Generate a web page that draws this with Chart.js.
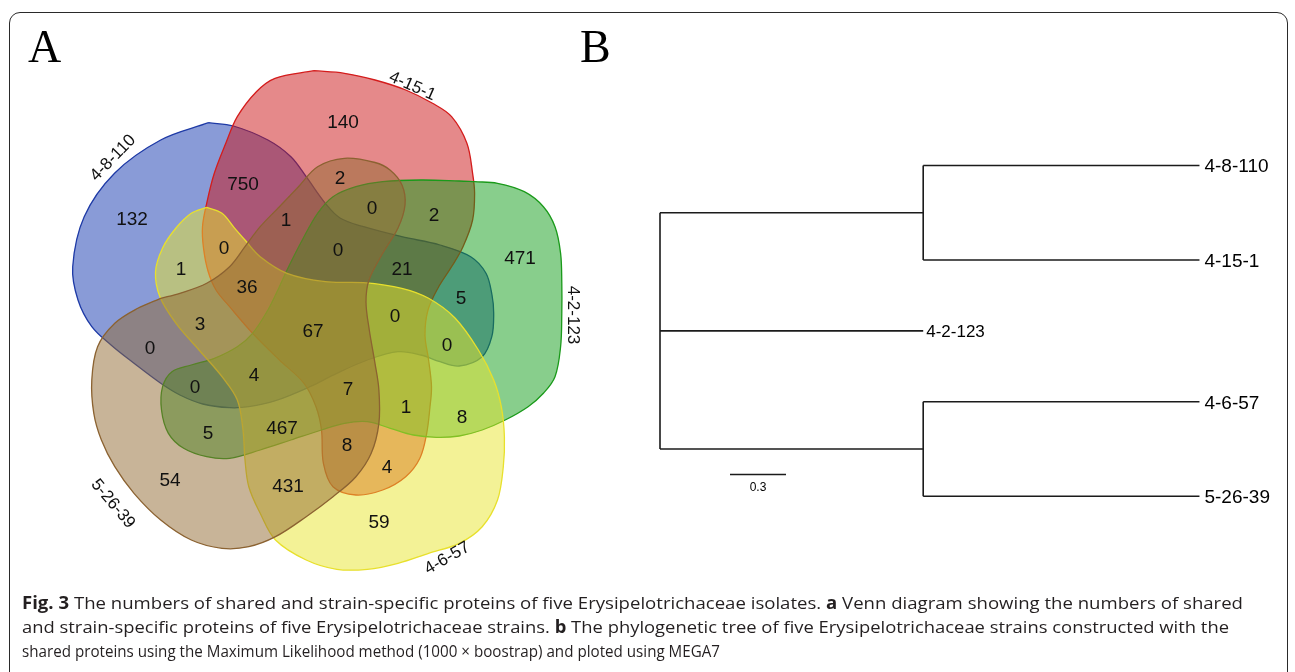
<!DOCTYPE html>
<html><head><meta charset="utf-8">
<script src="https://cdn.jsdelivr.net/npm/chart.js@4.4.1/dist/chart.umd.min.js"></script>
<style>
html,body{margin:0;padding:0;background:#fff;width:1295px;height:672px;overflow:hidden;}
#frame{position:absolute;left:9px;top:12px;width:1279px;height:720px;border:1.6px solid #2a2a2a;border-radius:11px;box-sizing:border-box;}
#chart{position:absolute;left:0;top:0;}
.cap{position:absolute;left:22px;font-family:'Open Sans',sans-serif;font-size:17px;line-height:20px;color:#231f20;white-space:nowrap;transform-origin:0 0;}
.cap b{font-weight:700;}
</style></head><body>
<div id="frame"></div>
<canvas id="chart" width="1295" height="672"></canvas>
<div class="cap" id="cap1" style="top:593px"><b>Fig. 3</b> The numbers of shared and strain-specific proteins of five Erysipelotrichaceae isolates. <b>a</b> Venn diagram showing the numbers of shared</div>
<div class="cap" id="cap2" style="top:617px">and strain-specific proteins of five Erysipelotrichaceae strains. <b>b</b> The phylogenetic tree of five Erysipelotrichaceae strains constructed with the</div>
<div class="cap" id="cap3" style="top:641px">shared proteins using the Maximum Likelihood method (1000 × boostrap) and ploted using MEGA7</div>
<script>
// ---------------- DATA ----------------
const setNames = ['4-8-110', '4-15-1', '4-2-123', '4-6-57', '5-26-39'];
const regionCounts = [132, 750, 140, 2, 0, 2, 471, 1, 0, 21, 5, 0, 1, 36, 67, 0, 0, 3, 0, 4, 7, 0, 1, 8, 5, 467, 8, 54, 431, 4, 59];

const taxa = ['4-8-110', '4-15-1', '4-2-123', '4-6-57', '5-26-39'];
const taxonClade = [0, 0, -1, 1, 1];          // -1 = attached directly to root
const terminalLengths = [1.48, 1.48, 1.41, 1.48, 1.48];
const cladeLengths = [1.41, 1.41];
const scaleBarLength = 0.3;

// ---------------- LAYOUT (positions / geometry, not data) ----------------
const regionLabelPos = [
  [132,218],[243,183],[343,121],[340,177],[372,207],[434,214],[520,257],[286,219],[338,249],[402,268],
  [461,297],[224,247],[181,268],[247,286],[313,330],[395,315],[447,344],[200,323],[150,347],[254,374],
  [348,388],[195,386],[406,406],[462,416],[208,432],[282,427],[347,444],[170,479],[288,485],[387,466],[379,521]
];
const setLabelPos = [
  {x:112,y:157,a:-46},{x:413,y:85,a:24},{x:574,y:315,a:90},{x:446.5,y:557,a:-30},{x:114,y:503,a:50}
];
const shapeOutlines = [
  [[208.6,122.7],[233.4,126],[267.9,140],[290.9,156.7],[306.2,176.7],[325.3,203.3],[340,218],[363.6,226.7],[401.8,236.7],[440,245],[470.7,256.7],[486,273.3],[492,295],[493.7,313.3],[491.8,336.7],[482.2,356.7],[459.2,366],[440,361.7],[421,355],[398,351.7],[367.4,360],[336.8,373.3],[310,386.7],[275.5,400.7],[248.8,406.7],[229.6,407.7],[202.8,404],[179.9,395],[160.7,383.3],[134,363.3],[111,345],[91.8,326.7],[78,300],[72.7,266.7],[84.2,216.7],[114.8,173],[160.7,140],[208.6,122.7]],
  [[313.8,70.7],[344.4,73.3],[375,80],[405.7,90],[432.5,103.3],[451.6,116.7],[466.9,143.3],[472.6,173.3],[474.6,193.3],[472.6,220],[463,246.7],[451.6,266.7],[438,288],[428,310],[425,335],[428.6,360],[431.5,386.7],[430,406.7],[426.7,433.3],[420,458],[405.7,476.7],[382.7,490],[355.9,495],[333,486.7],[323.4,463.3],[321.5,430],[316,406.7],[304,383.3],[279.4,360],[252.6,333.3],[229.6,306.7],[216,290],[208,271],[203.5,248],[202.5,226.7],[206.7,203.3],[214.3,173.3],[225.8,143.3],[237.3,116.7],[256.4,91.7],[275,78.3],[313.8,70.7]],
  [[474.6,181.7],[497.5,183.3],[524.3,191.7],[543.4,206.7],[555,226.7],[560.6,253.3],[561.8,283.3],[561.8,313.3],[560.6,346.7],[555,376.7],[543.4,393.3],[528.1,406.7],[505.2,420],[482.2,430],[459.2,436],[436.3,437.3],[413.3,435],[390.4,428.3],[367.4,421.7],[344.4,423.3],[321.5,430],[290.9,440],[260.2,450],[229.6,458.3],[206.7,456.7],[183.7,448.3],[168.4,433.3],[161.5,410],[162.6,386.7],[172,371.7],[191.3,365],[214.3,358.3],[237.3,346.7],[252.6,333.3],[267.9,310],[279.4,286.7],[288,268],[302.3,240],[317.6,213.3],[333,196.7],[355.9,186.7],[382.7,181.7],[421,180],[459.2,181],[474.6,181.7]],
  [[206.7,207.3],[222,213.3],[233.4,226.7],[245,240],[260.2,256.7],[287,273.3],[325.3,281.7],[363.6,282.7],[401.8,288.3],[428.6,298.3],[455,318],[478.4,350],[493.7,380],[501.3,406.7],[504.4,436.7],[503.3,466.7],[497.5,500],[482.2,526.7],[459.2,543.3],[428.6,553.3],[398,563.3],[367.4,569.3],[336.8,569.3],[306.2,560],[275.5,540],[260.2,513.3],[248.8,486.7],[245,460],[243,430],[237.3,400],[222,376.7],[199,350],[176,323.3],[160,297],[155.5,272],[162.6,248],[176,228],[191.3,213.3],[206.7,207.3]],
  [[160.7,298.3],[137.8,308.3],[114.8,323.3],[97.6,346.7],[91.8,380],[93.8,413.3],[101.4,440],[114.8,466.7],[134,493.3],[160.7,520],[191.3,540],[222,548.3],[248.8,546.7],[275.5,536.7],[306.2,516.7],[333,496.7],[355.9,476.7],[371.2,453.3],[378.9,423.3],[378.9,390],[375,363.3],[369.3,330],[366,302],[369,280],[382.7,253.3],[398,228],[405,205],[402,185],[390,170],[375,162.5],[344.4,158.3],[317.6,166.7],[298.5,186.7],[279.4,206.7],[260.2,226.7],[245,246.7],[229.6,266.7],[206.7,283.3],[179.9,293.3],[160.7,298.3]]
];
const shapeFill = ['rgba(20,56,176,0.5)','rgba(204,20,22,0.5)','rgba(18,158,26,0.5)','rgba(232,230,46,0.5)','rgba(145,105,50,0.5)'];
const shapeStroke = ['#1e3aa6','#d41c1c','#1a9a1a','#e8e02c','#8b6231'];

// tree layout: page pixel of root, pixels per distance unit, rows
const treeRootPx = 660, treePxPerUnit = 56 / 0.3, treeTopPx = 165.5, treeRowPx = 94.5, cladeGap = 1.5;
const scaleBarStart = 0.375, scaleBarRow = 3.27;

// ---------------- BUILD ----------------
const leafY = [], cladeNodeY = [];
let cursor = 0;
cladeLengths.forEach((len, c) => {
  const members = taxa.map((t, i) => i).filter(i => taxonClade[i] === c);
  members.forEach((i, k) => { leafY[i] = cursor + k; });
  cladeNodeY[c] = cursor + (members.length - 1) / 2;
  cursor += members.length - 1 + cladeGap;
});
taxa.forEach((t, i) => { if (taxonClade[i] === -1) leafY[i] = cladeNodeY.reduce((a, b) => a + b, 0) / cladeNodeY.length; });

const treeLine = (pts) => ({
  type: 'scatter', data: pts.map(([x, y]) => ({x, y})), showLine: true, xAxisID: 'xt', yAxisID: 'yt',
  borderColor: '#1b1b1b', borderWidth: 1.6, pointRadius: 0, tension: 0, fill: false, order: 0
});
const datasets = [];
shapeOutlines.forEach((pts, i) => {
  datasets.push({
    label: setNames[i], data: pts.map(([x, y]) => ({x, y})), showLine: true, xAxisID: 'xv', yAxisID: 'yv',
    borderColor: shapeStroke[i], backgroundColor: shapeFill[i], borderWidth: 1.3, pointRadius: 0,
    tension: 0.35, fill: 'shape', order: 10 - i
  });
});
datasets.push(treeLine([[0, Math.min(...cladeNodeY)], [0, Math.max(...cladeNodeY)]]));
cladeLengths.forEach((len, c) => {
  datasets.push(treeLine([[0, cladeNodeY[c]], [len, cladeNodeY[c]]]));
  const ys = taxa.map((t, i) => i).filter(i => taxonClade[i] === c).map(i => leafY[i]);
  datasets.push(treeLine([[len, Math.min(...ys)], [len, Math.max(...ys)]]));
});
const leafEndX = [];
taxa.forEach((t, i) => {
  const x0 = taxonClade[i] === -1 ? 0 : cladeLengths[taxonClade[i]];
  leafEndX[i] = x0 + terminalLengths[i];
  datasets.push(treeLine([[x0, leafY[i]], [leafEndX[i], leafY[i]]]));
});
datasets.push(treeLine([[scaleBarStart, scaleBarRow], [scaleBarStart + scaleBarLength, scaleBarRow]]));

const W = 1295, H = 672;
const annotate = {
  id: 'annotate',
  afterDatasetsDraw(chart) {
    const {ctx, scales} = chart;
    const {xv, yv, xt, yt} = scales;
    ctx.save();
    ctx.fillStyle = '#111';
    ctx.textAlign = 'center'; ctx.textBaseline = 'alphabetic';
    let fs = 19;
    ctx.font = fs + 'px "Liberation Sans", Arial, sans-serif';
    regionCounts.forEach((n, i) => {
      const [x, y] = regionLabelPos[i];
      ctx.fillText(String(n), xv.getPixelForValue(x), yv.getPixelForValue(y) + 0.716 * fs / 2);
    });
    fs = 17;
    ctx.font = fs + 'px "Liberation Sans", Arial, sans-serif';
    setNames.forEach((name, i) => {
      const p = setLabelPos[i];
      ctx.save();
      ctx.translate(xv.getPixelForValue(p.x), yv.getPixelForValue(p.y));
      ctx.rotate(p.a * Math.PI / 180);
      ctx.fillText(name, 0, 0.716 * fs / 2);
      ctx.restore();
    });
    ctx.fillStyle = '#000';
    ctx.font = '46px "Liberation Serif", "Times New Roman", serif';
    ctx.textAlign = 'left';
    ctx.fillText('A', xv.getPixelForValue(28), yv.getPixelForValue(62));
    ctx.fillText('B', xv.getPixelForValue(580), yv.getPixelForValue(62));
    taxa.forEach((t, i) => {
      const f = taxonClade[i] === -1 ? 17 : 19;
      ctx.font = f + 'px "Liberation Sans", Arial, sans-serif';
      ctx.fillText(t, xt.getPixelForValue(leafEndX[i]) + (taxonClade[i] === -1 ? 3 : 5), yt.getPixelForValue(leafY[i]) + 0.716 * f / 2);
    });
    ctx.font = '12px "Liberation Sans", Arial, sans-serif';
    ctx.textAlign = 'center';
    ctx.fillText(String(scaleBarLength), xt.getPixelForValue(scaleBarStart + scaleBarLength / 2), yt.getPixelForValue(scaleBarRow) + 16);
    ctx.restore();
  }
};

new Chart(document.getElementById('chart'), {
  type: 'scatter',
  data: {datasets},
  options: {
    responsive: false, animation: false, devicePixelRatio: 1, events: [],
    layout: {padding: 0},
    plugins: {legend: {display: false}, tooltip: {enabled: false}, title: {display: false}},
    scales: {
      xv: {type: 'linear', position: 'bottom', min: 0, max: W, display: false},
      yv: {type: 'linear', position: 'left', min: 0, max: H, reverse: true, display: false},
      xt: {type: 'linear', position: 'bottom', min: -treeRootPx / treePxPerUnit, max: (W - treeRootPx) / treePxPerUnit, display: false},
      yt: {type: 'linear', position: 'left', min: -treeTopPx / treeRowPx, max: (H - treeTopPx) / treeRowPx, reverse: true, display: false}
    }
  },
  plugins: [annotate]
});

const capWidths = {cap1: 1221, cap2: 1207, cap3: 698};
Object.entries(capWidths).forEach(([id, w]) => {
  const el = document.getElementById(id);
  const cw = el.getBoundingClientRect().width;
  el.style.transform = 'scaleX(' + (w / cw) + ')';
});
</script>
</body></html>
